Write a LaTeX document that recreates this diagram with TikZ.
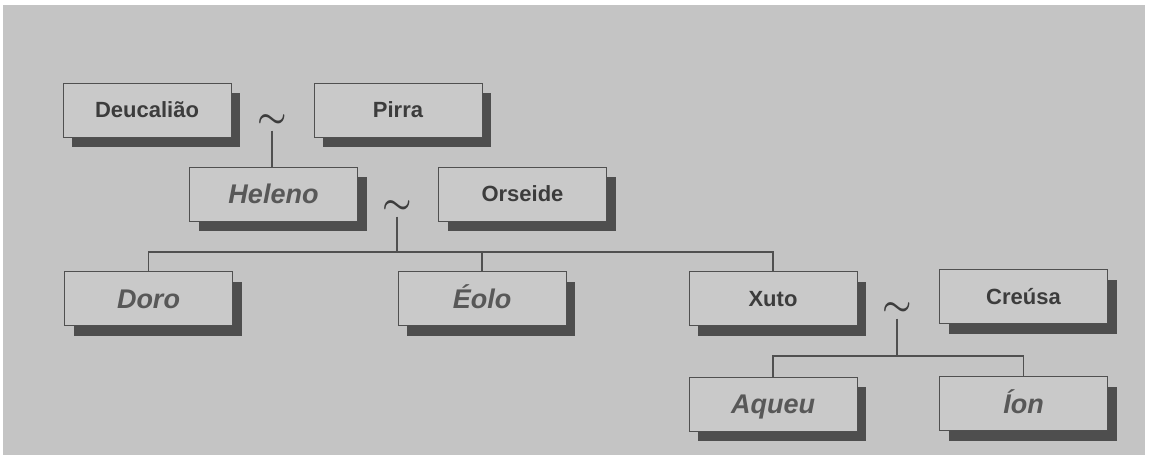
\documentclass[tikz,border=0pt]{standalone}
\usepackage{fontspec}
\setmainfont{Liberation Sans}
\definecolor{bgc}{RGB}{196,196,196}
\definecolor{boxc}{RGB}{201,201,201}
\definecolor{shc}{RGB}{78,78,78}
\definecolor{linec}{RGB}{80,80,80}
\definecolor{txb}{RGB}{60,60,60}
\definecolor{txi}{RGB}{88,88,88}
\tikzset{
  person/.style={draw=linec, line width=0.9pt, fill=boxc, minimum width=168pt, minimum height=54pt,
    inner sep=0pt, outer sep=0pt, text depth=0pt,
    append after command={\pgfextra{\begin{pgfonlayer}{shadowlayer}
      \fill[shc] ([xshift=9pt,yshift=-10pt]\tikzlastnode.south west) rectangle ([xshift=9pt,yshift=-10pt]\tikzlastnode.north east);
      \end{pgfonlayer}}}},
  bold/.style={person, font=\fontsize{22}{24}\selectfont\bfseries, text=txb, text height=15.8pt},
  ital/.style={person, font=\fontsize{27}{29}\selectfont\bfseries\itshape, text=txi, text height=19.4pt},
  tilde/.style={inner sep=0pt, text=txb},
  conn/.style={draw=linec, line width=1.2pt}
}
\newcommand{\tld}{\scalebox{3.3}{\boldmath$\sim$}}
\pgfdeclarelayer{shadowlayer}
\pgfdeclarelayer{bglayer}
\pgfsetlayers{bglayer,shadowlayer,main}
\begin{document}
\begin{tikzpicture}[x=1pt,y=-1pt]
\begin{pgfonlayer}{bglayer}
\fill[white] (0,0) rectangle (1151,458);
\fill[bgc] (3,5) rectangle (1145,455);
\end{pgfonlayer}
\useasboundingbox (0,0) rectangle (1151,458);
\node[bold] (deu) at (147,110) {Deucalião};
\node[bold] (pir) at (398,110) {Pirra};
\node[ital] (hel) at (273.5,194) {Heleno};
\node[bold] (ors) at (522.5,194) {Orseide};
\node[ital] (doro) at (148.5,298.5) {Doro};
\node[ital] (eolo) at (482,298.5) {Éolo};
\node[bold] (xuto) at (773,298.5) {Xuto};
\node[bold] (cre) at (1023.5,296.5) {Creúsa};
\node[ital] (aqu) at (773,404) {Aqueu};
\node[ital] (ion) at (1023.5,403.5) {Íon};
\node[tilde] (t1) at (272,121) {\tld};
\node[tilde] (t2) at (397,207) {\tld};
\node[tilde] (t3) at (897,309) {\tld};
\coordinate (j1) at (397,252);
\coordinate (j2) at (897,356);
\draw[conn] ([yshift=-3pt]t1.south) -- (t1.south |- hel.north);
\draw[conn] ([yshift=-3pt]t2.south) -- (j1);
\draw[conn] (doro.north) |- (j1) -| (xuto.north);
\draw[conn] (eolo.north) -- (eolo.north |- j1);
\draw[conn] ([yshift=-3pt]t3.south) -- (j2);
\draw[conn] (aqu.north) |- (j2) -| (ion.north);
\end{tikzpicture}
\end{document}
